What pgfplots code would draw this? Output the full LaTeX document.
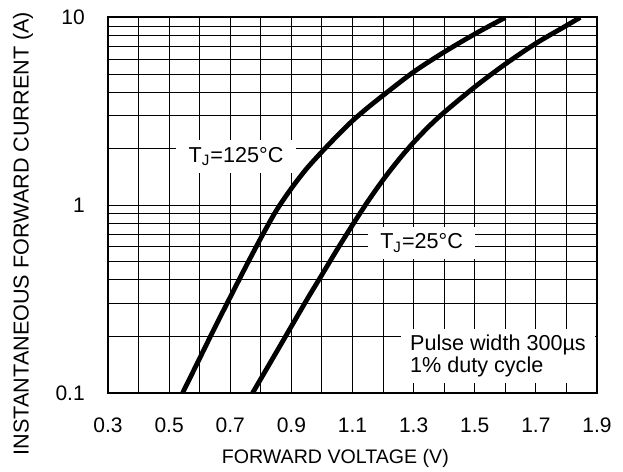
\documentclass[border=0pt]{standalone}
\usepackage{pgfplots}
\pgfplotsset{compat=1.18}
\usepackage{fontspec}
\setmainfont{Liberation Sans}

% forward characteristic, 125 C and 25 C
\pgfplotstableread{
V I
0.544 0.1
0.60 0.153
0.65 0.224
0.70 0.324
0.75 0.468
0.80 0.668
0.85 0.933
0.90 1.23
0.95 1.567
1.00 1.928
1.05 2.344
1.10 2.818
1.15 3.311
1.20 3.846
1.30 5.129
1.40 6.546
1.50 8.166
1.60 10
}\hot
\pgfplotstableread{
V I
0.773 0.1
0.85 0.164
0.90 0.2265
0.95 0.3126
1.00 0.4266
1.05 0.582
1.10 0.785
1.15 1.047
1.20 1.365
1.25 1.738
1.30 2.163
1.35 2.630
1.40 3.126
1.50 4.266
1.60 5.649
1.70 7.278
1.80 9.057
1.845 10
}\cold

\begin{document}
\begin{tikzpicture}
\useasboundingbox (-54pt,-39.5pt) rectangle (257.5pt,196.5pt);
\begin{axis}[
  scale only axis,
  width=244.5pt, height=187.75pt,
  at={(0,0)}, anchor=south west,
  ymode=log,
  xmin=0.3, xmax=1.9, ymin=0.1, ymax=10,
  xtick={0.3,0.5,0.7,0.9,1.1,1.3,1.5,1.7,1.9},
  xticklabels={0.3,0.5,0.7,0.9,1.1,1.3,1.5,1.7,1.9},
  minor xtick={0.4,0.6,0.8,1.0,1.2,1.4,1.6,1.8},
  ytick={0.1,1,10},
  yticklabels={0.1,1,10},
  grid=both,
  major grid style={black, line width=0.5pt},
  minor grid style={black, line width=0.5pt},
  axis line style={line width=1pt},
  tick style={draw=none},
  /pgf/number format/assume math mode=true,
  ticklabel style={font=\fontsize{10.5}{12}\selectfont},
  xticklabel style={anchor=center, yshift=-16pt},
  yticklabel style={anchor=east, xshift=-8.1pt},
  xlabel={FORWARD VOLTAGE (V)},
  xlabel style={at={(axis description cs:0.465,-0.175)}, anchor=center,
    font=\fontsize{9.8}{11}\selectfont},
  ylabel={INSTANTANEOUS FORWARD CURRENT (A)},
  ylabel style={at={(axis description cs:-0.1738,0.4248)}, anchor=center,
    font=\fontsize{10.8}{12}\selectfont},
]
\addplot[black, line width=2.4pt, smooth] table[x=V, y=I] {\hot};
\addplot[black, line width=2.4pt, smooth] table[x=V, y=I] {\cold};

\node[fill=white, inner xsep=6.5pt, inner ysep=3.5pt,
  font=\fontsize{10.8}{12}\selectfont] at (axis cs:0.719,1.82)
  {T\textsubscript{J}=125°C};
\node[fill=white, inner xsep=6pt, inner ysep=3.5pt,
  font=\fontsize{10.8}{12}\selectfont] at (axis cs:1.326,0.63)
  {T\textsubscript{J}=25°C};
\node[fill=white, inner xsep=4.5pt, inner ysep=3pt, align=left,
  font=\fontsize{10.8}{9.7}\selectfont] at (axis cs:1.576,0.157)
  {Pulse width 300µs\\1\% duty cycle};
\end{axis}
\end{tikzpicture}
\end{document}
